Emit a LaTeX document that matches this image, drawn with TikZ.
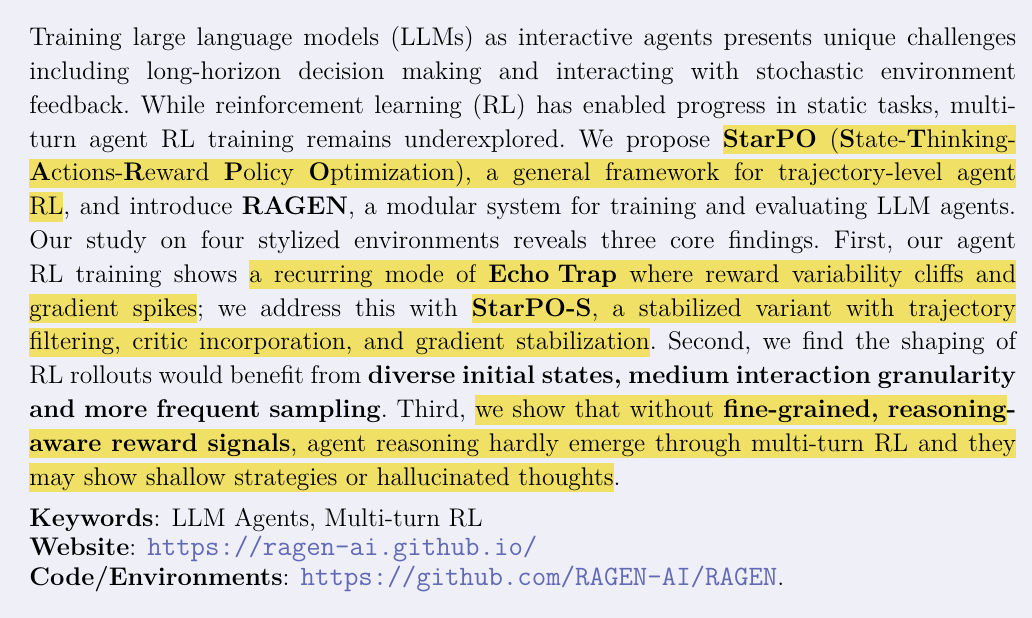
\documentclass[tikz,border=0pt]{standalone}
\usepackage{xcolor}
\usepackage{tikz}
\definecolor{pagebg}{RGB}{239,239,248}
\definecolor{hlyellow}{RGB}{240,224,102}
\definecolor{urlblue}{RGB}{98,106,180}

% highlight: a rule under each word, coloured glue between the words
\newlength{\hlht}\setlength{\hlht}{10.1pt}
\newlength{\hldp}\setlength{\hldp}{3.2pt}
\newsavebox{\hlbox}
\newcommand{\hw}[1]{\leavevmode\sbox{\hlbox}{#1}%
    \rlap{\textcolor{hlyellow}{\rule[-\hldp]{\wd\hlbox}{\dimexpr\hlht+\hldp\relax}}}\usebox{\hlbox}}
\newcommand{\hs}{{\color{hlyellow}\leaders\vrule height\hlht depth\hldp\hskip\spaceskip}}
\makeatletter
\def\hl#1{\hl@word#1 \@nil}
\def\hl@word#1 #2\@nil{\hw{#1}\ifx\relax#2\relax\else\hs\hl@word#2\@nil\fi}
\makeatother
% one justified line of the abstract
\newcommand{\row}[1]{\hbox to\linewidth{#1}}
\newcommand{\link}[1]{\textcolor{urlblue}{\fontsize{12.75}{13.5}\selectfont\ttfamily #1}}

\begin{document}
\begin{tikzpicture}[
        abstract/.style={anchor=base west, inner sep=0, text width=448.5pt,
            font=\fontsize{11.6}{15.36}\selectfont},
        keys/.style={anchor=base west, inner sep=0, font=\fontsize{11.6}{13.5}\selectfont}]
        \fill[pagebg] (0,0) rectangle (469.1pt,-280.9pt);
        \useasboundingbox (0,0) rectangle (469.1pt,-280.9pt);

        \node[abstract] (abs) at (13.2pt,-20.8pt) {\frenchspacing
            \spaceskip=0.333em plus 0.3em minus 0.12em
            \row{Training large language models (LLMs) as interactive agents presents unique challenges}
            \row{including long-horizon decision making and interacting with stochastic environment}
            \row{feedback. While reinforcement learning (RL) has enabled progress in static tasks, multi-}
            \row{turn agent RL training remains underexplored. We propose \hl{\textbf{StarPO} (\textbf{S}tate-\textbf{T}hinking-}}
            \row{\hl{\textbf{A}ctions-\textbf{R}eward \textbf{P}olicy \textbf{O}ptimization), a general framework for trajectory-level agent}}
            \row{\hl{RL}, and introduce \textbf{RAGEN}, a modular system for training and evaluating LLM agents.}
            \row{Our study on four stylized environments reveals three core findings. First, our agent}
            \row{RL training shows \hl{a recurring mode of \textbf{Echo Trap} where reward variability cliffs and}}
            \row{\hl{gradient spikes}; we address this with \hl{\textbf{StarPO-S}, a stabilized variant with trajectory}}
            \row{\hl{filtering, critic incorporation, and gradient stabilization}. Second, we find the shaping of}
            \row{RL rollouts would benefit from \textbf{diverse initial states, medium interaction granularity}}
            \row{\textbf{and more frequent sampling}. Third, \hl{we show that without \textbf{fine-grained,} \textbf{reasoning}}\textbf{-}}
            \row{\hl{\textbf{aware} \textbf{reward} \textbf{signals}, agent reasoning hardly emerge through multi-turn RL and they}}
            \hbox{\hl{may show shallow strategies or hallucinated thoughts}.}};

        \node[keys] (kw) at (13.2pt,-239.1pt) {\textbf{Keywords}: LLM Agents, Multi-turn RL};
        \node[keys] (web) at (13.2pt,-252.6pt) {\textbf{Website}: \link{https://ragen-ai.github.io/}};
        \node[keys] (code) at (13.2pt,-266.1pt) {\textbf{Code/Environments}: \link{https://github.com/RAGEN-AI/RAGEN}.};
    \end{tikzpicture}
\end{document}
